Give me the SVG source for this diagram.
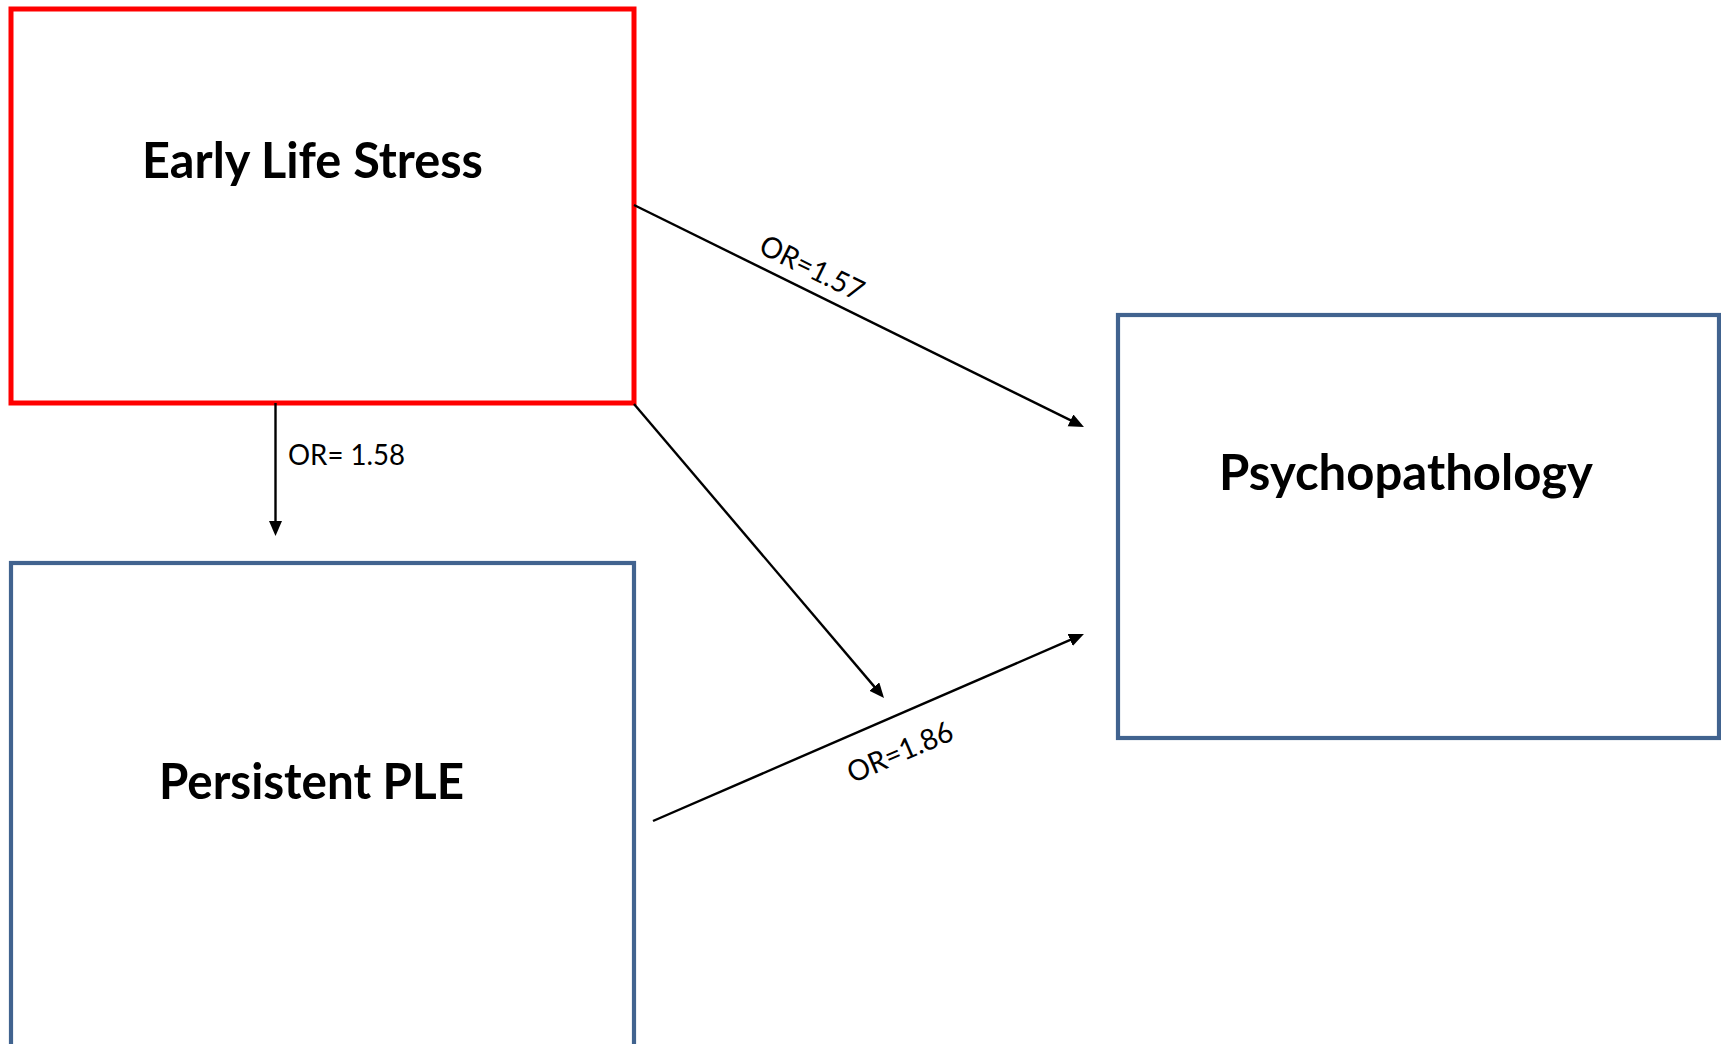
<svg xmlns="http://www.w3.org/2000/svg" width="1721" height="1044" viewBox="0 0 1721 1044">
  <defs>
    <style>
      .box { fill: #ffffff; }
      .red { stroke: #ff0000; stroke-width: 5; }
      .blue { stroke: #41638f; stroke-width: 4.2; }
      .title { font-family: Lato, "Open Sans", sans-serif; font-weight: bold; font-size: 50px; fill: #000000; }
      .lbl { font-family: Lato, "Open Sans", sans-serif; font-size: 29px; fill: #000000; }
      .conn { stroke: #000000; stroke-width: 2.4; fill: none; marker-end: url(#arrow); }
    </style>
    <marker id="arrow" markerUnits="userSpaceOnUse" markerWidth="17" markerHeight="14" refX="2" refY="6.5" orient="auto">
      <path d="M0,0 L15,6.5 L0,13 z" fill="#000000"/>
    </marker>
  </defs>
  <rect width="1721" height="1044" fill="#ffffff"/>

  <g id="node-early-life-stress">
    <rect class="box red" x="11" y="9" width="623" height="394"/>
    <text class="title" x="142" y="178" textLength="341" lengthAdjust="spacingAndGlyphs">Early Life Stress</text>
  </g>

  <g id="node-persistent-ple">
    <rect class="box blue" x="11" y="563" width="623" height="500"/>
    <text class="title" x="159" y="799" textLength="305" lengthAdjust="spacingAndGlyphs">Persistent PLE</text>
  </g>

  <g id="node-psychopathology">
    <rect class="box blue" x="1118" y="315" width="601" height="423"/>
    <text class="title" x="1219" y="490" textLength="374" lengthAdjust="spacingAndGlyphs">Psychopathology</text>
  </g>

  <g id="connectors">
    <line class="conn" x1="275.5" y1="403" x2="275.5" y2="523"/>
    <text class="lbl" x="288" y="465" textLength="117" lengthAdjust="spacingAndGlyphs">OR= 1.58</text>

    <line class="conn" x1="634" y1="205" x2="1072.3" y2="421.2"/>
    <text class="lbl" transform="translate(812,268) rotate(26.2)" x="0" y="10" text-anchor="middle" textLength="112" lengthAdjust="spacingAndGlyphs">OR=1.57</text>

    <line class="conn" x1="634" y1="404" x2="875.6" y2="688.1"/>

    <line class="conn" x1="653" y1="821" x2="1072" y2="639.2"/>
    <text class="lbl" transform="translate(900,752) rotate(-23.4)" x="0" y="10" text-anchor="middle" textLength="112" lengthAdjust="spacingAndGlyphs">OR=1.86</text>
  </g>
</svg>
